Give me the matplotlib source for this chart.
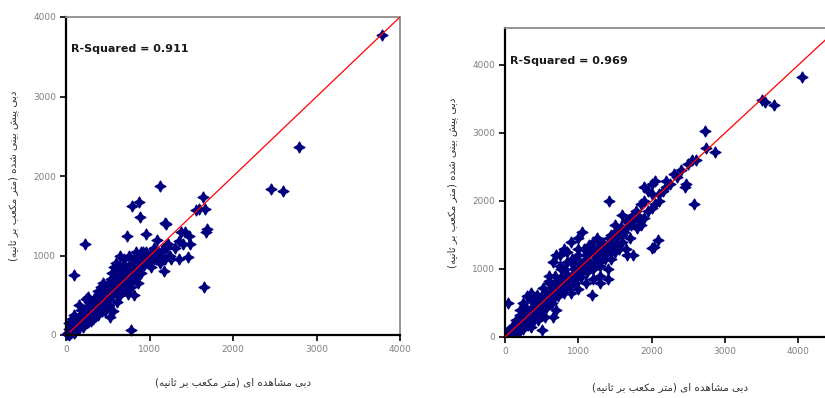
import matplotlib
matplotlib.use("Agg")
import matplotlib.pyplot as plt

# ---------------- data ----------------
left_obs = [20, 40, 60, 80, 100, 120, 140, 150, 170, 190, 200, 220, 230, 250, 260, 280, 290, 300, 320, 330,
            350, 360, 380, 400, 410, 430, 450, 460, 480, 500, 510, 520, 540, 550, 560, 580, 600, 610, 620, 640,
            650, 670, 680, 690, 700, 720, 730, 740, 750, 760, 770, 780, 800, 810, 820, 840, 850, 860, 880, 900,
            920, 940, 960, 980, 1000, 1020, 1050, 1080, 1100, 1120, 1150, 1180, 1200, 1230, 1260,
            100, 180, 240, 300, 350, 420, 470, 550, 600, 650, 700, 530, 440, 380, 260, 160, 70, 30, 50, 10, 90, 200,
            3780, 2790, 2450, 2600, 1650, 780, 1120, 1640, 1590, 1660, 1560, 1690, 1680, 790, 880, 890, 1180, 1200,
            730, 960, 1090, 230, 100, 1170, 1350, 1460, 1050, 1380, 1430, 1470, 1400, 1480, 1350, 1300,
            900, 1000, 1100, 1200, 1250, 1150, 950, 1050, 1220,
            30, 60, 90, 110, 130, 160, 180, 210, 230, 250, 270, 300, 320, 340, 360, 380, 400, 420, 440, 460,
            480, 500, 520, 540, 560, 580, 600, 620, 640, 660, 680, 700, 720, 740, 760, 780, 800, 820, 840, 860,
            880, 900, 920, 940, 700, 650, 600, 550, 500, 450, 400, 350, 300, 250, 200, 150, 280, 330, 520, 610,
            760, 830, 870, 330, 390, 480, 570, 640, 710, 580]
left_pred = [30, 80, 20, 120, 60, 180, 100, 220, 140, 260, 180, 300, 150, 350, 220, 420, 260, 330, 200, 380,
             450, 300, 250, 480, 360, 300, 520, 400, 350, 600, 450, 380, 700, 520, 300, 640, 560, 420, 750, 600,
             500, 850, 700, 560, 950, 780, 620, 520, 1000, 860, 700, 600, 900, 760, 500, 1050, 820, 650, 950, 780,
             1000, 880, 1050, 900, 980, 850, 1080, 950, 1000, 900, 1060, 960, 1120, 1000, 950,
             250, 320, 450, 180, 250, 600, 300, 780, 900, 1000, 880, 230, 650, 550, 480, 380, 200, 150, 50, 10, 30, 100,
             3770, 2370, 1840, 1810, 600, 60, 1880, 1740, 1590, 1580, 1570, 1330, 1300, 1620, 1670, 1490, 1410, 1400,
             1250, 1270, 1200, 1150, 750, 800, 950, 980, 950, 1290, 1300, 1250, 1150, 1150, 1180, 1100,
             1050, 1000, 1050, 1100, 1000, 950, 900, 1100, 1150,
             0, 90, 140, 40, 200, 90, 230, 130, 250, 180, 330, 250, 400, 300, 380, 450, 380, 500, 420, 560,
             470, 520, 640, 560, 650, 540, 680, 600, 720, 640, 800, 760, 700, 850, 800, 750, 850, 950, 880, 980,
             860, 950, 1050, 980, 650, 750, 750, 600, 450, 350, 300, 320, 280, 230, 210, 150, 180, 230, 500, 500,
             650, 700, 780, 450, 520, 620, 700, 850, 820, 850]

right_obs = [4050, 3500, 3540, 3670, 2730, 2740, 2865, 2580, 2455, 2470, 1420, 2000, 2030, 2080, 1050, 40, 1185, 1665,
             1700, 1800, 1900, 2000, 2000, 2100, 2200, 2300, 2400, 2500, 2550, 2600, 1900, 2000, 2100, 1850, 1750, 1600,
             1650, 1500, 1800, 1600, 1700, 1500, 1400, 1300, 1450, 1350, 1500, 1250, 1200, 1100, 1000, 950, 1100, 1200,
             1300, 1400, 1000, 900, 850, 800, 700, 650, 750, 600, 700, 550, 500, 450, 400, 350, 300, 250, 200, 150,
             100, 50, 600, 500, 400, 300, 200, 150, 120, 500, 550, 450, 350, 650, 800, 900, 1000, 1100, 1150, 1250,
             1350, 1450, 1550, 1650, 1750, 850, 950, 1050, 1200, 900, 1000, 800, 600, 300, 250, 200, 350, 1200, 1300,
             1400, 650, 700, 900, 1000, 1100, 750, 850, 1650, 1750, 1850, 1950, 2050, 2150, 2250, 2350, 2200, 1900,
             2050, 1950, 20, 80, 130, 180, 230, 280, 330, 380, 430, 480, 530, 580, 630, 680, 730, 780, 830, 880,
             60, 100, 140, 180, 220, 260, 300, 340, 380, 420, 460, 500, 540, 580, 620, 660, 700, 740, 780, 820,
             860, 900, 940, 980, 1020, 1060, 1100, 1140, 1180, 1220, 1260, 1300, 1340, 1380, 1420, 1460, 1500, 1540,
             1580, 1620, 1680, 1720, 1780, 1820, 200, 280, 360, 440, 520, 600, 680, 760, 840, 920, 1000, 1080,
             240, 320, 400, 480, 560, 640, 720, 800, 880, 960, 1040, 1120, 1200, 1280, 1360, 1440, 1520, 1600,
             1250, 1150, 750, 1300, 1450, 1550]
right_pred = [3820, 3485, 3450, 3410, 3030, 2780, 2720, 1955, 2210, 2250, 2000, 1305, 1320, 1425, 1540, 495, 620, 1205,
              1700, 1800, 2000, 2100, 2250, 2100, 2300, 2400, 2450, 2550, 2600, 2600, 1750, 1900, 2000, 1950, 1800, 1800,
              1700, 1650, 1600, 1500, 1450, 1450, 1350, 1400, 1300, 1200, 1250, 1150, 1300, 1200, 1300, 1150, 1000, 1000,
              900, 1000, 900, 1100, 900, 1000, 1200, 1100, 850, 800, 700, 650, 600, 450, 550, 400, 350, 300, 200, 250,
              150, 100, 500, 400, 300, 200, 100, 50, 0, 100, 300, 250, 150, 600, 700, 800, 1000, 1100, 1050, 1250,
              1300, 1500, 1550, 1600, 1700, 750, 850, 950, 1400, 1400, 1450, 1300, 900, 600, 500, 400, 650, 850, 800,
              850, 300, 400, 650, 700, 800, 1050, 1250, 1300, 1200, 1650, 1850, 1950, 2150, 2250, 2350, 2200, 2200,
              2300, 2150, 60, 40, 180, 120, 270, 200, 380, 300, 480, 400, 560, 500, 680, 600, 760, 700, 860, 780,
              40, 80, 160, 140, 250, 220, 300, 280, 420, 380, 500, 470, 580, 550, 650, 640, 760, 720, 850, 800,
              900, 880, 1000, 960, 1080, 1040, 1150, 1100, 1250, 1200, 1300, 1250, 1380, 1330, 1450, 1400, 1550, 1500,
              1620, 1550, 1700, 1650, 1850, 1750, 320, 420, 550, 620, 720, 820, 900, 1000, 1100, 1150, 1200, 1300,
              120, 180, 250, 350, 420, 500, 600, 650, 750, 800, 880, 950, 1050, 1100, 1150, 1250, 1350, 1400,
              1450, 1350, 1200, 1050, 1150, 1300]

fit_left_x = [50, 4000]
fit_left_y = [40, 4000]
fit_right_x = [0, 4600]
fit_right_y = [0, 4600]

r2_left = "R-Squared = 0.911"
r2_right = "R-Squared = 0.969"
xlabel_text = "دبی مشاهده ای (متر مکعب بر ثانیه)"
ylabel_text = "دبی پیش بینی شده (متر مکعب بر ثانیه)"
ticks = [0, 1000, 2000, 3000, 4000]

# ---------------- simple Persian shaping ----------------
FORMS = {
    'ا': ('\uFE8D', '\uFE8E', None, None),
    'ب': ('\uFE8F', '\uFE90', '\uFE91', '\uFE92'),
    'پ': ('\uFB56', '\uFB57', '\uFB58', '\uFB59'),
    'ت': ('\uFE95', '\uFE96', '\uFE97', '\uFE98'),
    'ث': ('\uFE99', '\uFE9A', '\uFE9B', '\uFE9C'),
    'د': ('\uFEA9', '\uFEAA', None, None),
    'ر': ('\uFEAD', '\uFEAE', None, None),
    'ش': ('\uFEB5', '\uFEB6', '\uFEB7', '\uFEB8'),
    'ع': ('\uFEC9', '\uFECA', '\uFECB', '\uFECC'),
    'ک': ('\uFB8E', '\uFB8F', '\uFB90', '\uFB91'),
    'م': ('\uFEE1', '\uFEE2', '\uFEE3', '\uFEE4'),
    'ن': ('\uFEE5', '\uFEE6', '\uFEE7', '\uFEE8'),
    'ه': ('\uFEE9', '\uFEEA', '\uFEEB', '\uFEEC'),
    'ی': ('\uFBFC', '\uFBFD', '\uFBFE', '\uFBFF'),
}


def dual(c):
    return c in FORMS and FORMS[c][2] is not None


def shape(text):
    out = []
    n = len(text)
    for i, c in enumerate(text):
        if c not in FORMS:
            out.append(c)
            continue
        prev_join = i > 0 and dual(text[i - 1])
        next_join = dual(c) and i + 1 < n and text[i + 1] in FORMS
        iso, fin, ini, med = FORMS[c]
        if prev_join and next_join:
            out.append(med)
        elif prev_join:
            out.append(fin)
        elif next_join:
            out.append(ini)
        else:
            out.append(iso)
    vis = ''.join(reversed(out))
    vis = vis.translate(str.maketrans({'(': ')', ')': '('}))
    return vis


# ---------------- figure ----------------
plt.rcParams['font.family'] = ['DejaVu Sans']
fig = plt.figure(figsize=(8.25, 3.98), dpi=100)

navy = '#00007F'
gray_lbl = '#7F7F7F'


def style(ax, xlim, ylim, xpad):
    ax.set_xlim(*xlim)
    ax.set_ylim(*ylim)
    ax.set_xticks(ticks)
    ax.set_yticks(ticks)
    ax.tick_params(direction='out', length=4, width=1.2, color='black',
                   labelsize=6.5, labelcolor=gray_lbl, pad=3)
    for s in ['left', 'bottom']:
        ax.spines[s].set_color('black')
        ax.spines[s].set_linewidth(1.6)
    for s in ['top', 'right']:
        ax.spines[s].set_color('#8C8C8C')
        ax.spines[s].set_linewidth(1.3)
    ax.set_xlabel(shape(xlabel_text), fontsize=7.5, color='#333333', labelpad=xpad)
    ax.set_ylabel(shape(ylabel_text), fontsize=7.5, color='#333333', labelpad=10)


axL = fig.add_axes([66 / 825, 63 / 398, 334 / 825, 318 / 398])
axL.scatter(left_obs, left_pred, marker=(4, 1, 0), s=60, color=navy, linewidths=1.0,
            edgecolors=navy, zorder=2, clip_on=False)
axL.plot(fit_left_x, fit_left_y, color='red', lw=0.9, zorder=3)
style(axL, (0, 4000), (0, 4000), 17)
axL.text(0.014, 0.9, r2_left, transform=axL.transAxes, fontsize=8, fontweight='bold',
         color='#1a1a1a', va='center', ha='left')

axR = fig.add_axes([505 / 825, 61 / 398, 330 / 825, 309 / 398])
axR.scatter(right_obs, right_pred, marker=(4, 1, 0), s=60, color=navy, linewidths=1.0,
            edgecolors=navy, zorder=2)
axR.plot(fit_right_x, fit_right_y, color='red', lw=0.9, zorder=3)
style(axR, (0, 4500), (0, 4544), 19)
axR.text(0.015, 0.893, r2_right, transform=axR.transAxes, fontsize=8, fontweight='bold',
         color='#1a1a1a', va='center', ha='left')

fig.savefig('out.png', dpi=100)
